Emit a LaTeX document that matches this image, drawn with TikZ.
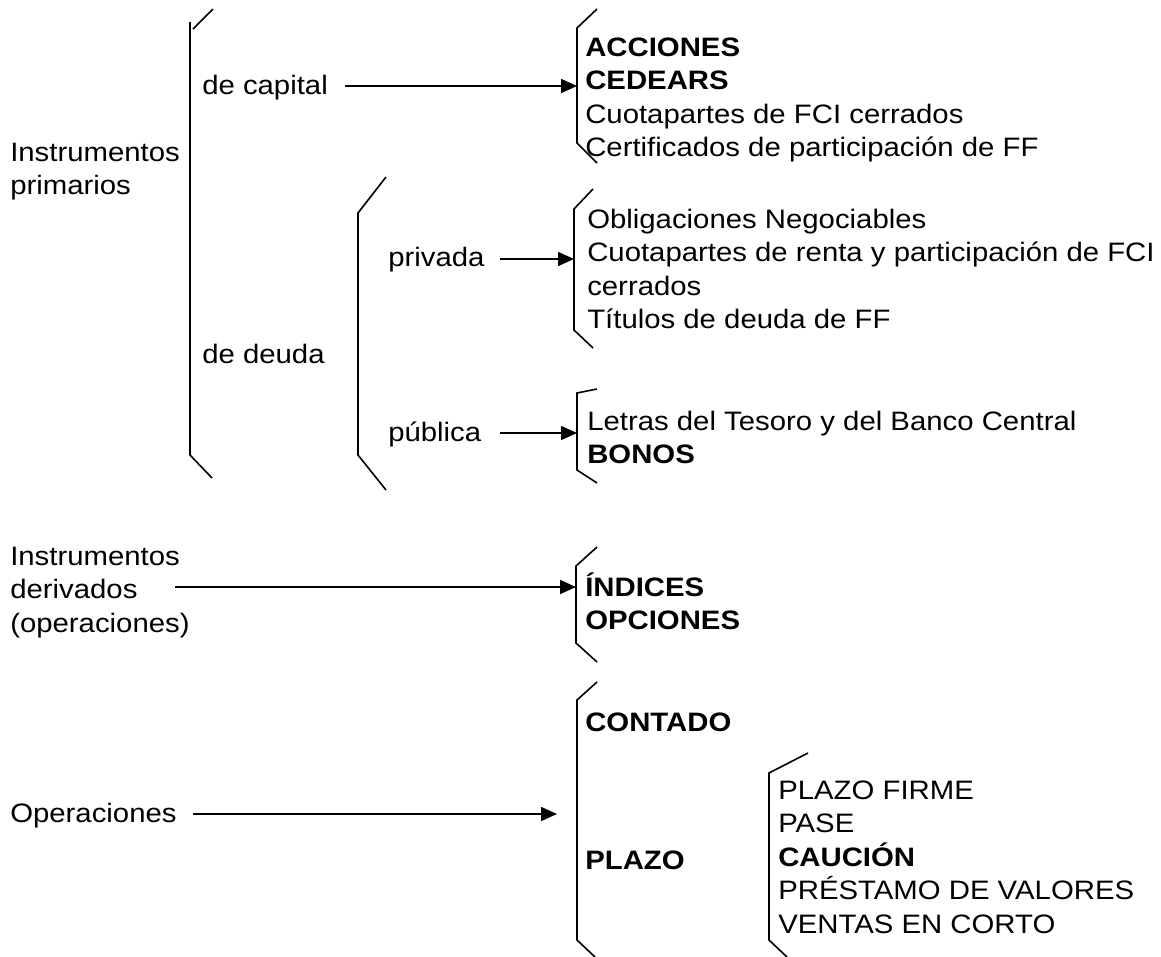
\documentclass[tikz,border=0pt]{standalone}
\usepackage{fontspec}
\setmainfont[FakeStretch=1.1]{Liberation Sans}
\usetikzlibrary{arrows.meta}
\newcommand{\lst}[1]{\begin{tabular}[t]{@{}l@{}}#1\end{tabular}}
\tikzset{
  txt/.style={anchor=base west, inner sep=0pt, font=\fontsize{20pt}{25.2pt}\selectfont},
  brk/.style={line width=1.2pt, line join=miter},
  arr/.style={line width=1.2pt, -{Triangle[length=12pt,width=10.5pt]}}
}
\begin{document}
\begin{tikzpicture}[x=0.75pt,y=-0.75pt]
\useasboundingbox (0,0) rectangle (1161,957);
% left labels
\node[txt] (prim) at (10,161) {\lst{Instrumentos\\primarios}};
\node[txt] (capital) at (202,94) {de capital};
\node[txt] (deuda) at (202,363) {de deuda};
\node[txt] (privada) at (388,266) {privada};
\node[txt] (publica) at (388,441) {pública};
\node[txt] (deriv) at (10,565) {\lst{Instrumentos\\derivados\\(operaciones)}};
\node[txt] (oper) at (10,822) {Operaciones};
% lists
\node[txt] (lcap) at (585,56) {\lst{\textbf{ACCIONES}\\\textbf{CEDEARS}\\Cuotapartes de FCI cerrados\\Certificados de participación de FF}};
\node[txt] (lpriv) at (587,228) {\lst{Obligaciones Negociables\\Cuotapartes de renta y participación de FCI\\cerrados\\Títulos de deuda de FF}};
\node[txt] (lpub) at (587,430) {\lst{Letras del Tesoro y del Banco Central\\\textbf{BONOS}}};
\node[txt] (lind) at (585,596) {\lst{\textbf{ÍNDICES}\\\textbf{OPCIONES}}};
\node[txt] (contado) at (585,731) {\textbf{CONTADO}};
\node[txt] (plazo) at (585,869) {\textbf{PLAZO}};
\node[txt] (lplazo) at (778,799) {\lst{PLAZO FIRME\\PASE\\\textbf{CAUCIÓN}\\PRÉSTAMO DE VALORES\\VENTAS EN CORTO}};
% brackets
\draw[brk] (213,9) -- (193,29);
\draw[brk] (190,22) -- (190,455) -- (212,478);
\draw[brk] (386,177) -- (358,213) -- (358,455) -- (386,490);
\draw[brk] (597,9) -- (577,28) -- (577,143) -- (597,163);
\draw[brk] (593,189) -- (574,209) -- (574,330) -- (593,348);
\draw[brk] (597,389) -- (577,393) -- (577,470) -- (597,483);
\draw[brk] (597,547) -- (576,566) -- (576,643) -- (597,662);
\draw[brk] (597,682) -- (577,700) -- (577,940) -- (595,957);
\draw[brk] (808,753) -- (769,773) -- (769,940) -- (787,957);
% arrow endpoints
\coordinate (capS) at (345,86);   \coordinate (capE) at (577,86);
\coordinate (privS) at (500,259); \coordinate (privE) at (574,259);
\coordinate (pubS) at (500,433);  \coordinate (pubE) at (577,433);
\coordinate (derS) at (175,587);  \coordinate (derE) at (576,587);
\coordinate (opS) at (193,814);   \coordinate (opE) at (557,814);
\draw[arr] (capS) -- (capE);
\draw[arr] (privS) -- (privE);
\draw[arr] (pubS) -- (pubE);
\draw[arr] (derS) -- (derE);
\draw[arr] (opS) -- (opE);
\end{tikzpicture}
\end{document}
